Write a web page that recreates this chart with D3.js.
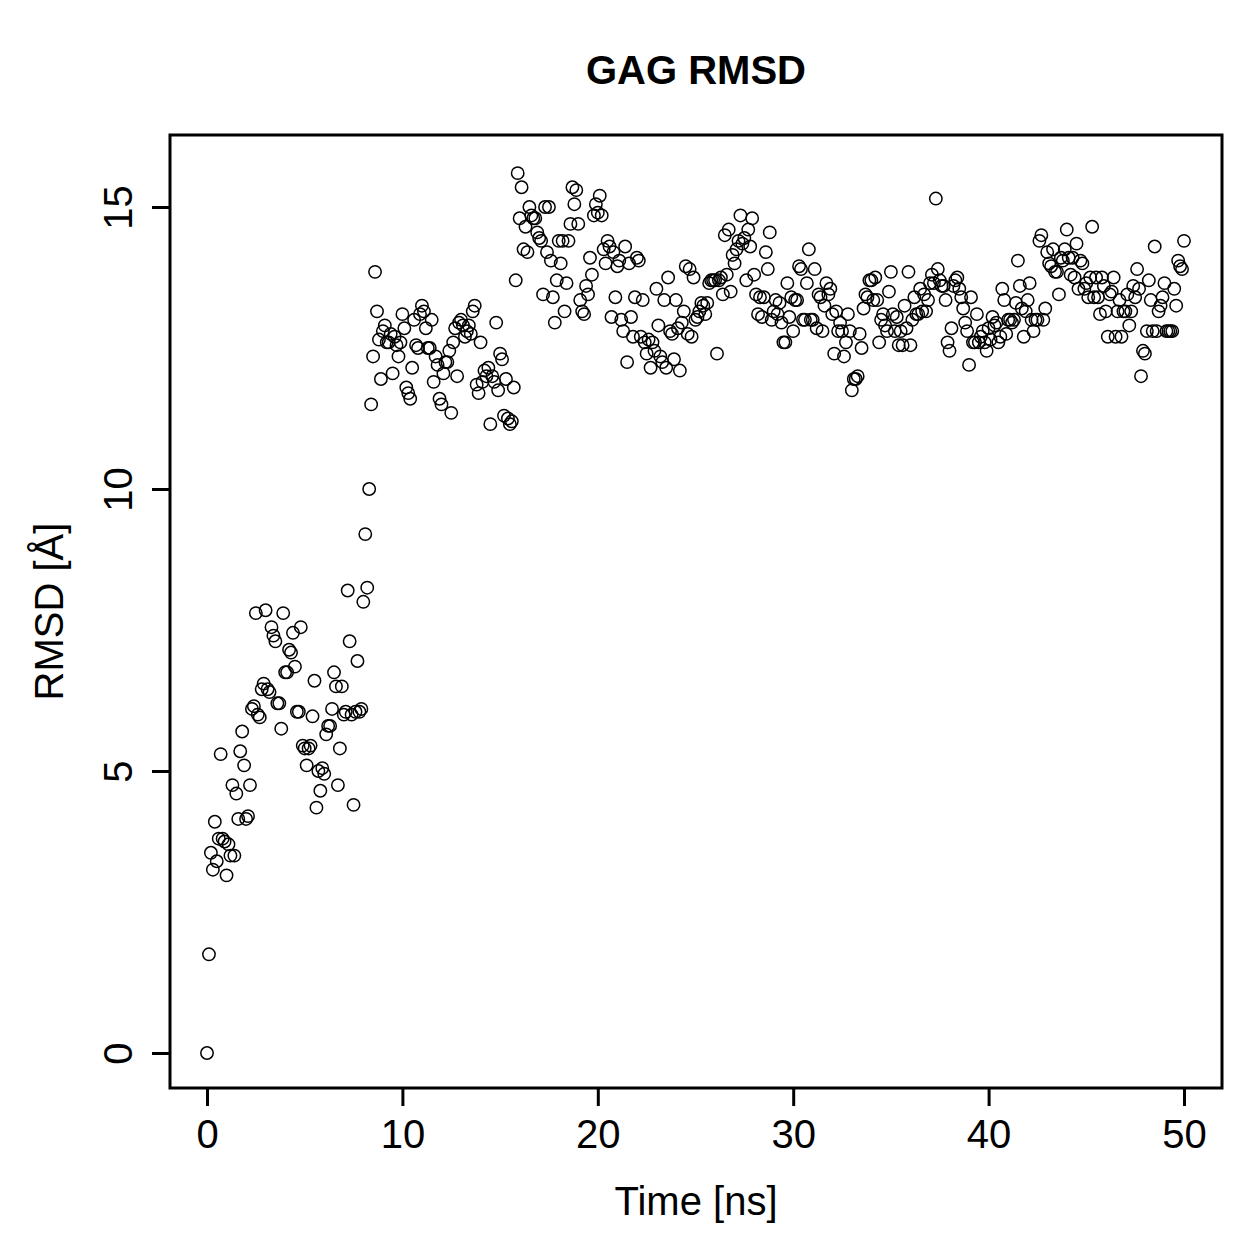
<!DOCTYPE html>
<head>
  <meta charset="utf-8">
  <style>
    body { margin: 0; background: #fff; }
    text { font-family: "Liberation Sans", Arial, sans-serif; fill: #000; }
  </style>
  <title>GAG RMSD</title>
</head>

<body>

  <script src="https://cdn.jsdelivr.net/npm/d3@7"></script>

  <script>
    // sampling step of the trajectory (ns)
    var timeStep = 0.1;

    // RMSD values, one row per ns (10 frames each), plus the last frame at 50 ns
    var rmsd = [
      0.0, 1.75, 3.55, 3.25, 4.1, 3.4, 3.8, 5.3, 3.8, 3.75,
      3.15, 3.7, 3.5, 4.75, 3.5, 4.6, 4.15, 5.35, 5.7, 5.1,
      4.15, 4.2, 4.75, 6.1, 6.15, 7.8, 6.0, 5.95, 6.45, 6.55,
      7.85, 6.45, 6.4, 7.55, 7.4, 7.3, 6.2, 6.2, 5.75, 7.8,
      6.75, 6.75, 7.15, 7.1, 7.45, 6.85, 6.05, 6.05, 7.55, 5.45,
      5.4, 5.1, 5.4, 5.45, 5.97, 6.6, 4.35, 5.0, 4.65, 5.05,
      4.95, 5.65, 5.8, 5.8, 6.1, 6.75, 6.5, 4.75, 5.4, 6.5,
      6.0, 6.05, 8.2, 7.3, 6.0, 4.4, 6.05, 6.95, 6.05, 6.1,
      8.0, 9.2, 8.25, 10.0, 11.5, 12.35, 13.85, 13.15, 12.65, 11.95,
      12.8, 12.9, 12.6, 12.6, 12.75, 12.05, 12.7, 12.55, 12.35, 12.6,
      13.1, 12.85, 11.8, 11.7, 11.6, 12.15, 13.0, 12.55, 12.5, 13.1,
      13.25, 13.15, 12.85, 12.5, 12.5, 13.0, 11.9, 12.35, 12.2, 11.6,
      11.5, 12.05, 12.25, 12.25, 12.45, 11.35, 12.6, 12.85, 12.0, 12.95,
      13.0, 12.9, 12.7, 12.8, 12.9, 12.75, 13.15, 13.25, 11.85, 11.7,
      12.6, 11.9, 12.1, 12.0, 12.15, 11.15, 12.0, 11.9, 12.95, 11.75,
      12.4, 12.3, 11.3, 11.95, 11.25, 11.15, 11.2, 11.8, 13.7, 15.6,
      14.8, 15.35, 14.25, 14.65, 14.2, 15.0, 14.85, 14.8, 14.8, 14.55,
      14.45, 14.4, 13.45, 15.0, 14.2, 15.0, 14.05, 13.4, 12.95, 13.7,
      14.4, 14.0, 14.4, 13.15, 13.65, 14.4, 14.7, 15.35, 15.05, 15.3,
      14.7, 13.35, 13.15, 13.1, 13.6, 13.45, 14.1, 13.8, 14.85, 15.05,
      14.9, 15.2, 14.85, 14.25, 14.0, 14.4, 14.3, 13.05, 14.2, 13.4,
      13.95, 14.05, 13.0, 12.8, 14.3, 12.25, 14.0, 13.05, 12.7, 13.4,
      14.1, 14.05, 12.7, 13.35, 12.6, 12.4, 12.65, 12.15, 12.6, 12.45,
      13.55, 12.9, 12.35, 12.25, 13.35, 12.15, 13.75, 12.8, 12.75, 12.3,
      13.35, 12.85, 12.1, 12.95, 13.15, 13.95, 12.75, 13.9, 12.7, 13.75,
      13.0, 13.05, 13.15, 13.3, 13.25, 13.1, 13.3, 13.65, 13.7, 13.7,
      13.7, 12.4, 13.7, 13.75, 13.45, 14.5, 13.8, 14.6, 13.5, 14.15,
      14.0, 14.25, 14.4, 14.85, 14.35, 14.45, 13.7, 14.6, 14.3, 14.8,
      13.8, 13.45, 13.1, 13.4, 13.05, 13.4, 14.2, 13.9, 14.55, 13.0,
      13.15, 13.35, 13.1, 13.3, 12.95, 12.6, 12.6, 13.65, 13.05, 13.4,
      12.8, 13.35, 13.35, 13.95, 13.9, 13.0, 13.0, 13.65, 14.25, 13.0,
      13.0, 13.9, 12.85, 13.45, 13.4, 12.8, 13.25, 13.65, 13.45, 13.55,
      13.1, 12.4, 13.15, 12.8, 12.95, 12.8, 12.35, 12.6, 13.1, 12.8,
      11.75, 11.95, 11.95, 12.0, 12.75, 12.5, 13.2, 13.45, 13.4, 13.7,
      13.7, 13.35, 13.75, 13.35, 12.6, 13.0, 13.1, 12.9, 12.8, 13.5,
      13.85, 13.1, 12.8, 13.05, 12.55, 12.8, 12.55, 13.25, 12.85, 13.85,
      12.55, 13.0, 13.4, 13.1, 13.1, 13.55, 13.15, 13.45, 13.15, 13.35,
      13.65, 13.8, 13.65, 15.15, 13.9, 13.7, 13.6, 13.6, 13.35, 12.6,
      12.45, 12.85, 13.6, 13.7, 13.75, 13.55, 13.4, 13.2, 12.95, 12.8,
      12.2, 13.4, 12.6, 12.6, 13.1, 12.6, 12.7, 12.8, 12.6, 12.45,
      12.85, 12.65, 13.05, 12.9, 12.95, 12.6, 12.7, 13.55, 13.35, 12.75,
      13.0, 13.0, 12.95, 13.0, 13.3, 14.05, 13.6, 13.2, 12.7, 13.15,
      13.35, 13.65, 13.0, 12.8, 13.0, 13.0, 14.4, 14.5, 13.0, 13.2,
      14.2, 14.0, 13.95, 14.25, 13.85, 13.85, 13.45, 14.1, 14.05, 14.25,
      14.6, 14.1, 13.8, 14.1, 13.75, 14.35, 13.55, 14.05, 14.0, 13.55,
      13.65, 13.4, 13.75, 14.65, 13.4, 13.75, 13.4, 13.1, 13.75, 13.6,
      13.15, 12.7, 13.45, 13.5, 13.75, 12.7, 13.15, 13.35, 12.7, 13.15,
      13.15, 13.45, 12.9, 13.15, 13.6, 13.4, 13.9, 13.55, 12.0, 12.45,
      12.4, 12.8, 13.7, 13.35, 12.8, 14.3, 12.8, 13.15, 13.25, 13.4,
      13.65, 12.8, 12.8, 12.8, 12.8, 13.55, 13.25, 14.05, 13.95, 13.9,
      14.4
    ];

    var xTicks = [0, 10, 20, 30, 40, 50];
    var yTicks = [0, 5, 10, 15];

    var title = "GAG RMSD";
    var xLabel = "Time [ns]";
    var yLabel = "RMSD [Å]";

    // plot region (the box R draws around the data)
    var W = 1259, H = 1259;
    var box = {left: 170, right: 1222, top: 135, bottom: 1088};
    var fontSize = 40;

    var x = d3.scaleLinear().domain([0, 50]).range([207, 1184]);
    var y = d3.scaleLinear().domain([0, 15]).range([1053, 207]);

    var svg = d3.select("body").append("svg")
      .attr("width", W)
      .attr("height", H);

    // points
    svg.append("g")
      .attr("id", "points")
      .selectAll("circle")
      .data(rmsd)
      .enter().append("circle")
      .attr("cx", function(d, i) { return x(i * timeStep); })
      .attr("cy", function(d) { return y(d); })
      .attr("r", 6.2)
      .attr("fill", "none")
      .attr("stroke", "#000")
      .attr("stroke-width", 1.5);

    // box
    svg.append("rect")
      .attr("x", box.left)
      .attr("y", box.top)
      .attr("width", box.right - box.left)
      .attr("height", box.bottom - box.top)
      .attr("fill", "none")
      .attr("stroke", "#000")
      .attr("stroke-width", 3);

    // x axis
    var xAxis = svg.append("g")
      .attr("id", "x_axis")
      .attr("transform", "translate(0," + box.bottom + ")")
      .call(d3.axisBottom(x).tickValues(xTicks).tickSize(18).tickFormat(d3.format("d")));
    xAxis.select(".domain").remove();
    xAxis.selectAll(".tick line").attr("stroke-width", 3);
    xAxis.selectAll(".tick text")
      .attr("y", 60)
      .attr("dy", null)
      .style("font-size", fontSize + "px")
      .attr("fill", "#000");

    // y axis, labels turned like R does by default
    var yAxis = svg.append("g")
      .attr("id", "y_axis")
      .attr("transform", "translate(" + box.left + ",0)")
      .call(d3.axisLeft(y).tickValues(yTicks).tickSize(18).tickFormat(d3.format("d")));
    yAxis.select(".domain").remove();
    yAxis.selectAll(".tick line").attr("stroke-width", 3);
    yAxis.selectAll(".tick text")
      .attr("x", null)
      .attr("dy", null)
      .attr("transform", "translate(-38,0) rotate(-90)")
      .style("text-anchor", "middle")
      .style("font-size", fontSize + "px")
      .attr("fill", "#000");

    // title
    svg.append("text")
      .attr("id", "title")
      .attr("x", (box.left + box.right) / 2)
      .attr("y", 84)
      .style("text-anchor", "middle")
      .style("font-size", fontSize + "px")
      .style("font-weight", "bold")
      .text(title);

    // axis titles
    svg.append("text")
      .attr("id", "x_axis_label")
      .attr("x", (box.left + box.right) / 2)
      .attr("y", 1215)
      .style("text-anchor", "middle")
      .style("font-size", fontSize + "px")
      .text(xLabel);

    svg.append("text")
      .attr("id", "y_axis_label")
      .attr("transform", "translate(63," + (box.top + box.bottom) / 2 + ") rotate(-90)")
      .style("text-anchor", "middle")
      .style("font-size", fontSize + "px")
      .text(yLabel);
  </script>
</body>
